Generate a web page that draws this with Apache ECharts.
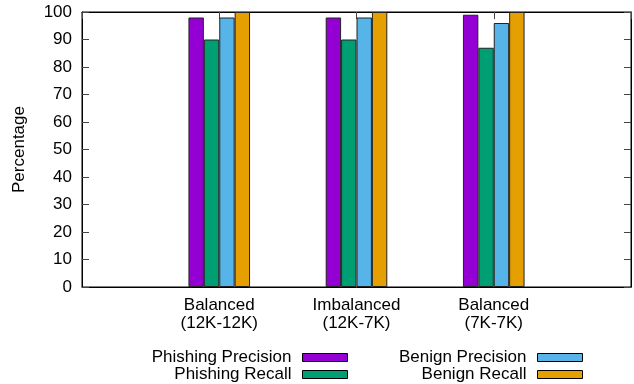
<!DOCTYPE html>
<html>
<head>
<meta charset="utf-8">
<script src="https://cdn.jsdelivr.net/npm/echarts@6/dist/echarts.min.js"></script>
<style>html,body{margin:0;padding:0;background:#fff;}#c{width:634px;height:384px;}</style>
</head>
<body>
<div id="c"></div>
<script>
const categories = ['Balanced\n(12K-12K)', 'Imbalanced\n(12K-7K)', 'Balanced\n(7K-7K)'];
const seriesNames = ['Phishing Precision', 'Phishing Recall', 'Benign Precision', 'Benign Recall'];
const phishingPrecision = [98, 98, 99];
const phishingRecall = [90, 90, 87];
const benignPrecision = [98, 98, 96];
const benignRecall = [100, 100, 100];
const yTicks = [0, 10, 20, 30, 40, 50, 60, 70, 80, 90, 100];
const colors = ['#9400D3', '#009E73', '#56B4E9', '#E69F00'];

const FONT = 'Liberation Sans, Arial, Helvetica, sans-serif';
const FS = 17;
const values = [phishingPrecision, phishingRecall, benignPrecision, benignRecall];

const chart = echarts.init(document.getElementById('c'), null, {renderer: 'canvas'});

const legendPos = [
  {right: 286, top: 349},
  {right: 286, top: 366},
  {right: 51, top: 349},
  {right: 51, top: 366}
];

const option = {
  animation: false,
  backgroundColor: '#fff',
  color: colors,
  grid: {left: 82, right: 3, top: 12, bottom: 97, show: true, borderColor: '#000', borderWidth: 1, backgroundColor: 'transparent'},
  legend: seriesNames.map((n, i) => ({
    data: [n],
    right: legendPos[i].right,
    top: legendPos[i].top,
    align: 'right',
    padding: 0,
    selectedMode: false,
    icon: 'rect',
    itemWidth: 45,
    itemHeight: 8,
    itemStyle: {borderColor: '#000', borderWidth: 1},
    textStyle: {fontFamily: FONT, fontSize: FS, color: '#000', padding: [0, 6, 0, 0]}
  })),
  xAxis: [
    {
      type: 'value', min: -1, max: 3, interval: 1,
      axisLine: {show: true, onZero: false, lineStyle: {color: '#000', width: 1}},
      axisTick: {show: false},
      splitLine: {show: false},
      axisLabel: {
        fontFamily: FONT, fontSize: FS, color: '#000', margin: 10, lineHeight: 17.5,
        showMinLabel: false, showMaxLabel: false,
        formatter: v => (v >= 0 && v < categories.length && Number.isInteger(v)) ? categories[v] : ''
      }
    },
    {
      type: 'value', min: -1, max: 3, interval: 1, position: 'top',
      axisLine: {show: true, onZero: false, lineStyle: {color: '#000', width: 1}},
      axisTick: {show: true, inside: true, length: 7, lineStyle: {color: '#444'}},
      splitLine: {show: false},
      axisLabel: {show: false}
    }
  ],
  yAxis: [
    {
      type: 'value', min: yTicks[0], max: yTicks[yTicks.length - 1], interval: 10,
      name: 'Percentage', nameLocation: 'middle', nameGap: 54, nameRotate: 90,
      nameTextStyle: {fontFamily: FONT, fontSize: FS, color: '#000'},
      axisLine: {show: true, onZero: false, lineStyle: {color: '#000', width: 1}},
      axisTick: {show: true, inside: true, length: 7, lineStyle: {color: '#444'}},
      splitLine: {show: false},
      axisLabel: {fontFamily: FONT, fontSize: FS, color: '#000', margin: 10}
    },
    {
      type: 'value', min: yTicks[0], max: yTicks[yTicks.length - 1], interval: 10, position: 'right',
      axisLine: {show: true, onZero: false, lineStyle: {color: '#000', width: 1}},
      axisTick: {show: true, inside: true, length: 7, lineStyle: {color: '#444'}},
      splitLine: {show: false},
      axisLabel: {show: false}
    }
  ],
  series: seriesNames.map((n, i) => ({
    name: n,
    type: 'bar',
    xAxisIndex: 0,
    yAxisIndex: 0,
    barWidth: 15.4,
    barGap: '0%',
    data: values[i].map((v, j) => [j, v]),
    itemStyle: {color: colors[i], borderColor: '#222', borderWidth: 1}
  }))
};
chart.setOption(option);
</script>
</body>
</html>
